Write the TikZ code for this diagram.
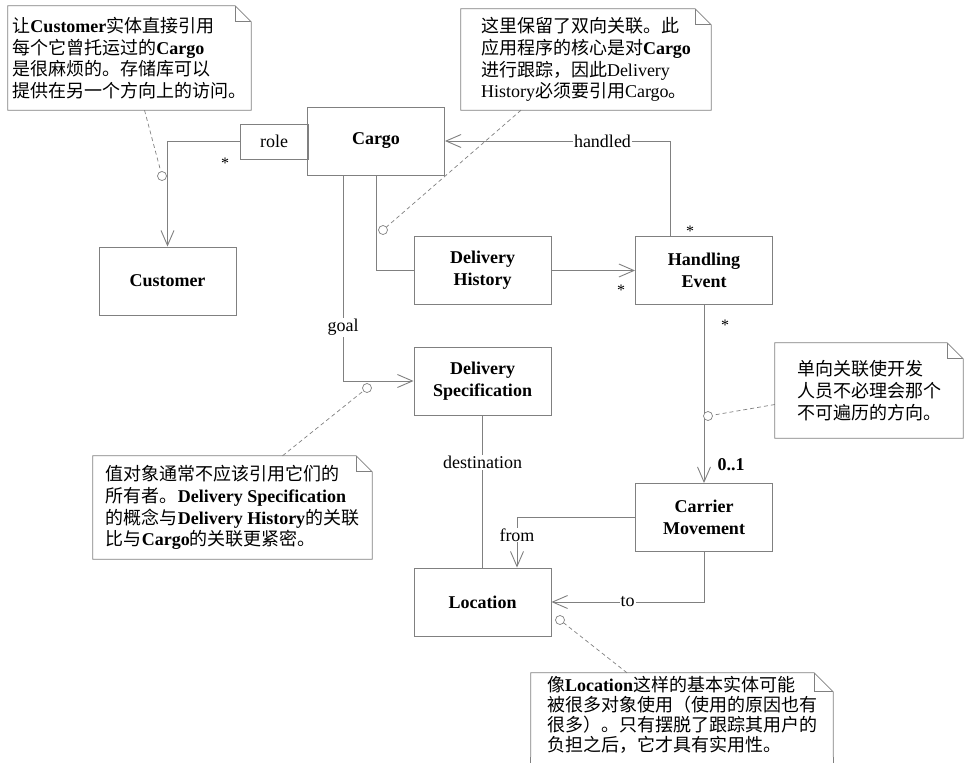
\documentclass[tikz,border=0pt]{standalone}
\usepackage{fontspec}
\setmainfont{Liberation Serif}
\newfontfamily\cjkfont{Noto Sans CJK SC}
\usetikzlibrary{arrows.meta}
\definecolor{umlgray}{RGB}{128,128,128}
\newcommand{\zh}[1]{{\cjkfont #1}}
\newcommand{\umlfont}{\fontsize{18}{22}\selectfont}
\tikzset{
  classbox/.style={draw=umlgray,line width=0.9pt,minimum width=137pt,minimum height=68pt,
    align=center,inner sep=2pt,font=\umlfont\bfseries},
  notebox/.style={align=left,inner sep=0pt,font=\fontsize{18}{21.7}\selectfont},
  noteline/.style={draw=umlgray,line width=0.8pt},
  assoc/.style={draw=umlgray,line width=0.9pt},
  navassoc/.style={assoc,-{Straight Barb[length=15pt,width=13pt]}},
  notelink/.style={draw=umlgray,line width=0.7pt,dash pattern=on 4pt off 3pt},
  attach/.style={circle,draw=umlgray,fill=white,line width=0.7pt,inner sep=0pt,minimum size=9pt},
  rolelabel/.style={fill=white,inner sep=1pt,font=\umlfont},
  mult/.style={inner sep=0pt,font=\fontsize{16}{18}\selectfont},
}
% note outline with folded corner
\newcommand{\notefold}[1]{%
  \draw[noteline] (#1.south west) -- (#1.north west) -- ([xshift=-16pt]#1.north east)
    -- ([yshift=-16pt]#1.north east) -- (#1.south east) -- cycle;
  \draw[noteline] ([xshift=-16pt]#1.north east) -- ([xshift=-16pt,yshift=-16pt]#1.north east)
    -- ([yshift=-16pt]#1.north east);}
% same, but open at the bottom (cut by the page)
\newcommand{\noteopen}[1]{%
  \draw[noteline] (#1.south west) -- (#1.north west) -- ([xshift=-19pt]#1.north east)
    -- ([yshift=-19pt]#1.north east) -- (#1.south east);
  \draw[noteline] ([xshift=-19pt]#1.north east) -- ([xshift=-19pt,yshift=-19pt]#1.north east)
    -- ([yshift=-19pt]#1.north east);}

\begin{document}
\begin{tikzpicture}[x=1pt,y=-1pt]
  \useasboundingbox (0,0) rectangle (964,763);
  % classes
  \node[classbox] (cargo) at (376,141) {Cargo};
  \node[classbox,minimum width=68pt,minimum height=35pt,font=\umlfont] (role) at (274,141.5) {role};
  \node[classbox] (customer) at (167.5,281) {Customer};
  \node[classbox] (dh) at (482.5,270.5) {Delivery\\History};
  \node[classbox] (he) at (704,270.5) {Handling\\Event};
  \node[classbox] (ds) at (482.5,381) {Delivery\\Specification};
  \node[classbox] (cm) at (704,517.5) {Carrier\\Movement};
  \node[classbox] (loc) at (482.5,602) {Location};
  % notes
  \node[notebox,minimum width=243pt,minimum height=104pt] (n1) at (129.5,58) {%
    \zh{让}\textbf{Customer}\zh{实体直接引用}\\
    \zh{每个它曾托运过的}\textbf{Cargo}\\
    \zh{是很麻烦的。存储库可以}\\
    \zh{提供在另一个方向上的访问。}};
  \node[notebox,minimum width=250pt,minimum height=101pt] (n2) at (586,59.5) {%
    \zh{这里保留了双向关联。此}\\
    \zh{应用程序的核心是对}\textbf{Cargo}\\
    \zh{进行跟踪，因此}Delivery\\
    History\zh{必须要引用}Cargo\zh{。}};
  \node[notebox,minimum width=279pt,minimum height=103pt] (n3) at (232.5,507.5) {%
    \zh{值对象通常不应该引用它们的}\\
    \zh{所有者。}\textbf{Delivery Specification}\\
    \zh{的概念与}\textbf{Delivery History}\zh{的关联}\\
    \zh{比与}\textbf{Cargo}\zh{的关联更紧密。}};
  \node[notebox,minimum width=188pt,minimum height=95pt] (n4) at (869,390.5) {%
    \zh{单向关联使开发}\\
    \zh{人员不必理会那个}\\
    \zh{不可遍历的方向。}};
  \node[notebox,minimum width=302pt,minimum height=84pt,font=\fontsize{18}{20}\selectfont]
    (n5) at (682,715) {%
    \zh{像}\textbf{Location}\zh{这样的基本实体可能}\\
    \zh{被很多对象使用（使用的原因也有}\\
    \zh{很多）。只有摆脱了跟踪其用户的}\\
    \zh{负担之后，它才具有实用性。}};
  \notefold{n1}\notefold{n2}\notefold{n3}\notefold{n4}
  \draw[noteline] (n5.south west) -- ++(0,10);
  \draw[noteline] (n5.south east) -- ++(0,10);
  \noteopen{n5}
  % associations
  \draw[navassoc] (role.west) -| (customer.north);
  \draw[navassoc] ([xshift=-34pt]he.north) |- node[rolelabel,pos=0.65] (lhandled) {handled} (cargo.east);
  \draw[assoc] (cargo.south) |- (dh.west);
  \draw[navassoc] ([xshift=-33pt]cargo.south) |- node[rolelabel,pos=0.37] (lgoal) {goal} (ds.west);
  \draw[navassoc] (dh.east) -- (he.west);
  \draw[navassoc] (he.south) -- (cm.north);
  \draw[assoc] (ds.south) -- node[rolelabel,pos=0.31] (ldest) {destination} (loc.north);
  \draw[navassoc] (cm.west) -| node[rolelabel,pos=0.675] (lfrom) {from} ([xshift=34.5pt]loc.north);
  \draw[navassoc] (cm.south) |- node[rolelabel,pos=0.75] (lto) {to} (loc.east);
  % multiplicities
  \node[mult] (m1) at (225,163) {*};
  \node[mult] (m2) at (690,231) {*};
  \node[mult] (m3) at (621,290) {*};
  \node[mult] (m4) at (725,325) {*};
  \node[mult,font=\fontsize{18}{20}\selectfont\bfseries] (m5) at (731,465) {0..1};
  % note anchors
  \node[attach] (a1) at (162,176) {};
  \node[attach] (a2) at (383,230) {};
  \node[attach] (a3) at (367,388) {};
  \node[attach] (a4) at (708,416) {};
  \node[attach] (a5) at (560,620) {};
  \draw[notelink] ([xshift=15pt]n1.south) -- (a1);
  \draw[notelink] ([xshift=-65pt]n2.south) -- (a2);
  \draw[notelink] ([xshift=50pt]n3.north) -- (a3);
  \draw[notelink] ([yshift=-14pt]n4.west) -- (a4);
  \draw[notelink] ([xshift=-55pt]n5.north) -- (a5);
\end{tikzpicture}
\end{document}
